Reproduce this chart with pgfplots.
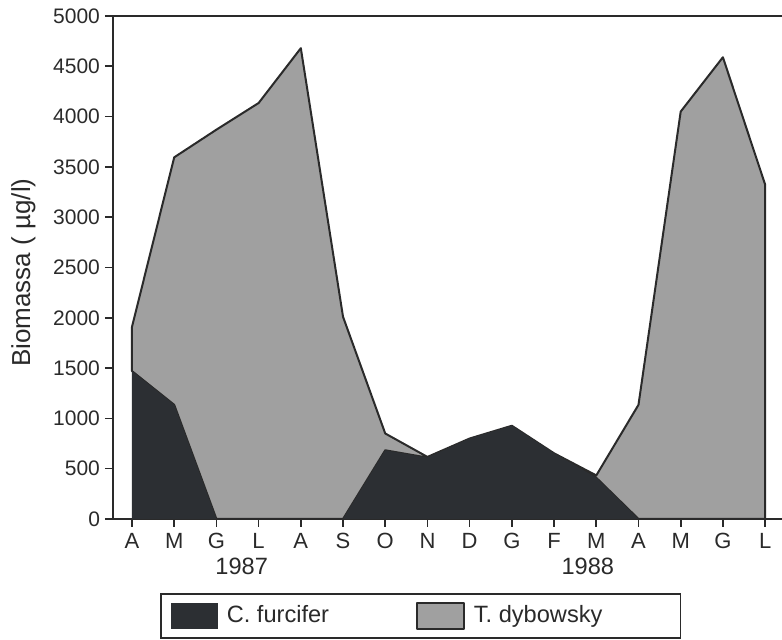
\documentclass[border=0pt]{standalone}
\usepackage{pgfplots}
\pgfplotsset{compat=1.18}
\usepackage{fontspec}
\setmainfont{Liberation Sans}
\definecolor{dk}{HTML}{2C2F33}
\definecolor{gr}{HTML}{A0A0A0}
\definecolor{tx}{HTML}{2A2A2A}

% month index, C. furcifer, T. dybowsky (stacked)
\pgfplotstableread{
x cf td
0 1470 440
1 1135 2460
2 0 3870
3 0 4135
4 0 4680
5 0 2010
6 683 167
7 610 7
8 800 0
9 927 0
10 653 0
11 410 23
12 0 1135
13 0 4050
14 0 4590
15 0 3325
}\data

\begin{document}
\begin{tikzpicture}[x=1pt,y=1pt]
\begin{axis}[
  at={(0,0)}, anchor=south west,
  scale only axis, width=334.5pt, height=251.5pt,
  xmin=-0.45, xmax=15.4, ymin=0, ymax=5000,
  axis x line*=bottom, axis y line*=left,
  xtick={0,...,15},
  xticklabels={A,M,G,L,A,S,O,N,D,G,F,M,A,M,G,L},
  ytick={0,500,...,5000},
  tick align=outside, major tick length=4pt,
  /pgf/number format/set thousands separator={},
  /pgf/number format/assume math mode=true,
  xticklabel style={font=\fontsize{11}{12}\selectfont, text=tx, yshift=0.5pt},
  yticklabel style={font=\fontsize{10.5}{12}\selectfont, text=tx, xshift=1pt},
  ylabel={Biomassa ( µg/l)},
  ylabel style={font=\fontsize{13}{15}\selectfont, text=tx, at={(axis description cs:-0.134,0.49)}, anchor=center},
  axis line style={tx, line width=0.8pt, -},
  tick style={tx, line width=0.8pt},
  stack plots=y,
  clip=false,
  legend style={at={(axis description cs:0.0703,-0.147)}, anchor=north west,
    draw=tx, line width=0.8pt, legend columns=2,
    font=\fontsize{11.8}{13}\selectfont, text=tx,
    inner xsep=5pt, inner ysep=4pt,
    /tikz/every even column/.append style={column sep=41.5pt}},
  legend cell align=left,
]
\addplot[draw=none, fill=dk,
  legend image code/.code={\fill[dk] (0pt,-6.5pt) rectangle (23.5pt,6.5pt); \path (26pt,0pt);}]
  table[x=x,y=cf] {\data} \closedcycle;
\addlegendentry{C. furcifer}
\addplot[draw=tx, line width=1pt, fill=gr, line join=round,
  legend image code/.code={\filldraw[fill=gr, draw=tx, line width=0.8pt] (0pt,-6.5pt) rectangle (23.5pt,6.5pt); \path (26pt,0pt);}]
  table[x=x,y=td] {\data} \closedcycle;
\addlegendentry{T. dybowsky\hspace*{32pt}}
\draw[tx, line width=0.8pt] (rel axis cs:0,1) -- (rel axis cs:1,1);
\node[font=\fontsize{11.8}{13}\selectfont, text=tx] at (axis cs:2.6,0) [yshift=-23.5pt] {1987};
\node[font=\fontsize{11.8}{13}\selectfont, text=tx] at (axis cs:10.8,0) [yshift=-23.5pt] {1988};
\end{axis}
\pgfresetboundingbox
\path[use as bounding box] (-56.5pt,-60.5pt) rectangle (334.5pt,259.5pt);
\end{tikzpicture}
\end{document}
